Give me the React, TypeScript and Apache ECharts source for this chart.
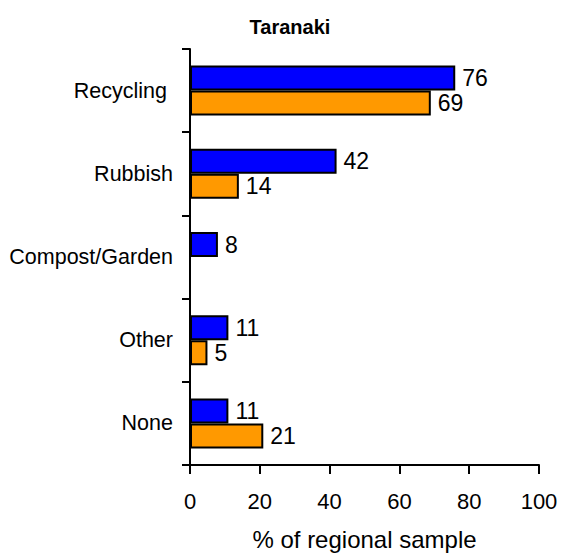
import React, { useEffect, useRef } from "react";
import * as echarts from "echarts";

const TITLE = "Taranaki";
const categories = ["Recycling", "Rubbish", "Compost/Garden", "Other", "None"];
const blueValues: (number | null)[] = [76, 42, 8, 11, 11];
const orangeValues: (number | null)[] = [69, 14, null, 5, 21];
const xTicks = [0, 20, 40, 60, 80, 100];
const X_NAME = "% of regional sample";

const FONT = "'Liberation Sans', Arial, Helvetica, sans-serif";

export default function App() {
  const ref = useRef<HTMLDivElement>(null);
  useEffect(() => {
    if (!ref.current) return;
    const chart = echarts.init(ref.current, undefined, { renderer: "svg" });
    const labelStyle = {
      show: true,
      position: "right" as const,
      distance: 7,
      color: "#000",
      fontFamily: FONT,
      fontSize: 23,
    };
    chart.setOption({
      animation: false,
      backgroundColor: "#fff",
      title: {
        text: TITLE,
        left: 285,
        top: 12,
        textAlign: "center",
        textStyle: { fontFamily: FONT, fontSize: 20, fontWeight: "bold", color: "#000" },
      },
      grid: { left: 190, right: 22, top: 49, bottom: 85, containLabel: false },
      xAxis: {
        type: "value",
        min: xTicks[0],
        max: xTicks[xTicks.length - 1],
        interval: 20,
        name: X_NAME,
        nameLocation: "middle",
        nameGap: 62,
        nameTextStyle: { fontFamily: FONT, fontSize: 24, color: "#000" },
        axisLine: { show: true, lineStyle: { color: "#000", width: 2 } },
        axisTick: { show: true, length: 9, inside: false, lineStyle: { color: "#000", width: 2 } },
        axisLabel: { margin: 25, fontFamily: FONT, fontSize: 22, color: "#000" },
        splitLine: { show: false },
      },
      yAxis: {
        type: "category",
        data: categories,
        inverse: true,
        axisLine: { show: true, lineStyle: { color: "#000", width: 2 } },
        axisTick: { show: true, length: 8, alignWithLabel: false, lineStyle: { color: "#000", width: 2 } },
        axisLabel: {
          margin: 17,
          fontFamily: FONT,
          fontSize: 21.5,
          color: "#000",
          formatter: (v: string) => (v === categories[0] ? `{p|${v}}` : v),
          rich: {
            p: { fontFamily: FONT, fontSize: 21.5, color: "#000", padding: [0, 6, 0, 0] },
          },
        },
        splitLine: { show: false },
      },
      series: [
        {
          type: "bar",
          data: blueValues,
          barWidth: 25,
          barGap: "0%",
          itemStyle: { color: "#0000FF", borderColor: "#000", borderWidth: 2 },
          label: labelStyle,
        },
        {
          type: "bar",
          data: orangeValues,
          barWidth: 25,
          barGap: "0%",
          itemStyle: { color: "#FF9900", borderColor: "#000", borderWidth: 2 },
          label: labelStyle,
        },
      ],
    });
    return () => chart.dispose();
  }, []);
  return (
    <div
      ref={ref}
      style={{ position: "fixed", left: 0, top: 0, width: 561, height: 556, background: "#fff" }}
    />
  );
}
